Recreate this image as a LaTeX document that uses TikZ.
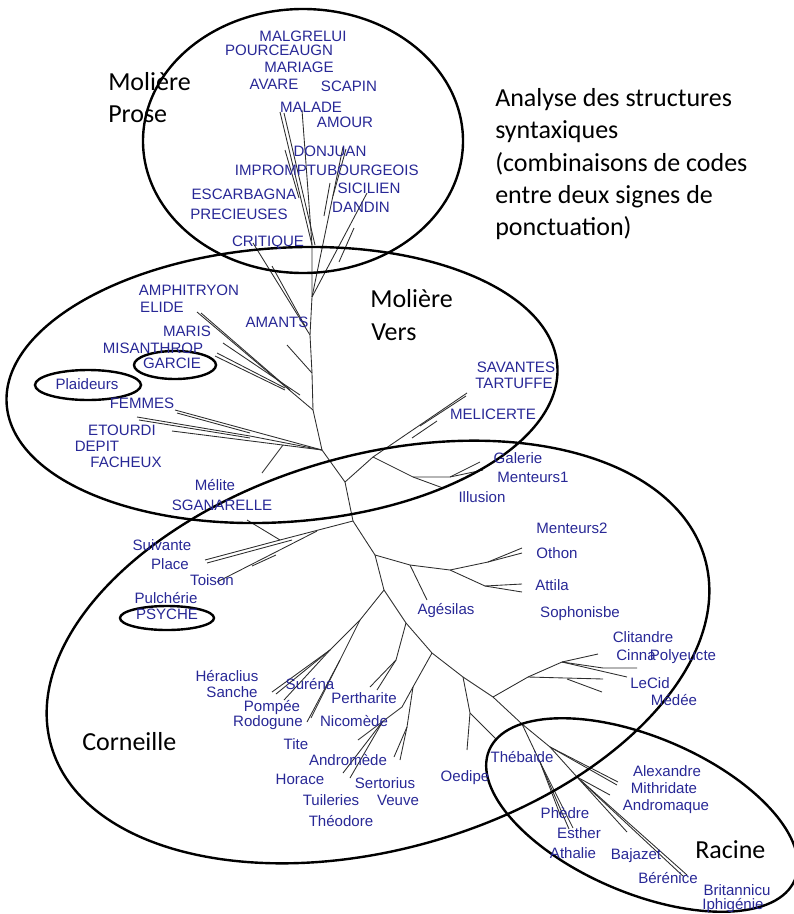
\documentclass[tikz,border=0pt]{standalone}
\usepackage{fontspec}
\newfontfamily\lab{Liberation Sans}
\newfontfamily\calib{Carlito}
\definecolor{lblue}{RGB}{40,40,150}
\definecolor{treec}{RGB}{45,45,45}
\begin{document}
\begin{tikzpicture}[x=0.75pt,y=-0.75pt,
  lbl/.style={font=\lab\fontsize{11.3}{13}\selectfont, text=lblue, inner sep=0pt, anchor=base},
  big/.style={font=\calib\fontsize{19.5}{24}\selectfont, text=black, inner sep=0pt, anchor=base west},
  br/.style={draw=treec, line width=0.65pt},
  ell/.style={draw=black, line width=1.8pt},
  oval/.style={draw=black, line width=1.8pt}]
\useasboundingbox (0,0) rectangle (793,914);

% ---------- tree junctions ----------
\coordinate (pA) at (312,245);
\coordinate (T1) at (312,297);
\coordinate (T2) at (310,335);
\coordinate (T3) at (312,373);
\coordinate (T4) at (313,410);
\coordinate (T5) at (322,450);
\coordinate (T6) at (345,482);
\coordinate (T7) at (353,521);
\coordinate (T8) at (375,555);
\coordinate (T9) at (384,590);
\coordinate (T10) at (406,623);
\coordinate (T11) at (432,653);
\coordinate (T12) at (463,677);
\coordinate (T13) at (493,697);
\coordinate (T14) at (522,724);

\draw[br] (pA) -- (T1) -- (T2) -- (T3) -- (T4) -- (T5) -- (T6) -- (T7) -- (T8) -- (T9) -- (T10) -- (T11) -- (T12) -- (T13) -- (T14);

% Moliere prose
\draw[br] (302,110) -- (pA);
\draw[br] (280,112) -- (pA);
\draw[br] (284,113) -- (315,245);
\draw[br] (285,150) -- (299,198);
\draw[br] (343,147) -- (T1);
\draw[br] (346,149) -- (333,196);
\draw[br] (330,183) -- (324,216);
\draw[br] (367,193) -- (T1);
\draw[br] (354,228) -- (339,262);
\draw[br] (253,243) -- (T2);
\draw[br] (272,266) -- (305,326);

% Moliere vers
\draw[br] (287,345) -- (T3);
\draw[br] (197,312) -- (T4);
\draw[br] (201,313) -- (290,390);
\draw[br] (223,343) -- (300,395);
\draw[br] (217,353) -- (285,388);
\draw[br] (215,356) -- (285,390);
\draw[br] (175,410) -- (T5);
\draw[br] (177,413) -- (250,433);
\draw[br] (137,417) -- (250,436) -- (T5);
\draw[br] (139,420) -- (250,438);
\draw[br] (172,431) -- (T5);
\draw[br] (283,445) -- (262,473);

\coordinate (G0) at (373,457);
\coordinate (G1) at (413,477);
\coordinate (G2) at (450,477);
\draw[br] (T6) -- (G0) -- (467,393);
\draw[br] (420,426) -- (466,396);
\draw[br] (437,421) -- (412,438);
\draw[br] (G0) -- (G1) -- (443,488);
\draw[br] (G1) -- (G2) -- (480,462);
\draw[br] (G2) -- (483,470);

% Corneille
\coordinate (S1) at (280,540);
\draw[br] (T7) -- (S1) -- (205,560);
\draw[br] (292,540) -- (207,563);
\draw[br] (S1) -- (247,520);
\draw[br] (317,531) -- (217,582);
\draw[br] (252,566) -- (276,555);

\coordinate (O1) at (410,565);
\coordinate (O2) at (450,570);
\coordinate (O3) at (488,562);
\coordinate (O4) at (485,586);
\draw[br] (T8) -- (O1) -- (O2) -- (O3) -- (522,548);
\draw[br] (O3) -- (522,553);
\draw[br] (O2) -- (O4) -- (522,584);
\draw[br] (O4) -- (522,592);
\draw[br] (O1) -- (427,600);

\coordinate (K1) at (360,620);
\coordinate (K2) at (330,650);
\coordinate (K4) at (340,660);
\draw[br] (T9) -- (K1) -- (K2) -- (272,692);
\draw[br] (K2) -- (276,694);
\draw[br] (K2) -- (284,700);
\draw[br] (K1) -- (K4) -- (307,722);
\draw[br] (K4) -- (311,718);

\coordinate (P1) at (396,660);
\draw[br] (T10) -- (P1) -- (370,687);
\draw[br] (P1) -- (377,690);

\coordinate (N1) at (413,687);
\coordinate (N2) at (407,727);
\coordinate (N4) at (402,707);
\coordinate (N3) at (383,721);
\draw[br] (T11) -- (N1) -- (N2) -- (400,760);
\draw[br] (N2) -- (394,757);
\draw[br] (N1) -- (N4) -- (358,740);
\draw[br] (N3) -- (343,773);
\draw[br] (N3) -- (350,778);

\coordinate (E1) at (470,713);
\draw[br] (T12) -- (E1) -- (467,750);
\draw[br] (E1) -- (497,740);

\coordinate (C1) at (528,677);
\coordinate (C2) at (562,662);
\draw[br] (T13) -- (C1) -- (C2) -- (598,654);
\draw[br] (C2) -- (603,668) -- (637,668);
\draw[br] (C2) -- (627,677);
\draw[br] (C1) -- (603,679);
\draw[br] (567,679) -- (602,692);

% Racine
\coordinate (R1) at (540,762);
\coordinate (R2) at (550,747);
\coordinate (R3) at (577,777);
\draw[br] (T14) -- (R1) -- (573,828);
\draw[br] (R1) -- (569,829);
\draw[br] (R1) -- (561,817);
\draw[br] (T14) -- (R2) -- (618,782);
\draw[br] (R2) -- (617,785);
\draw[br] (R2) -- (R3) -- (610,795);
\draw[br] (R3) -- (627,832);
\draw[br] (R3) -- (687,875);
\draw[br] (580,780) -- (684,877);

% ---------- group ellipses ----------
\draw[ell] (303,141) ellipse [x radius=160, y radius=132];
\draw[ell, rotate around={4:(282,385)}] (282,385) ellipse [x radius=276, y radius=137];
\draw[ell, rotate around={16:(378,652)}] (378,652) ellipse [x radius=340, y radius=197];
\draw[ell, rotate around={-23:(642,815)}] (642,815) ellipse [x radius=166, y radius=78];

\draw[oval] (175,365) ellipse [x radius=41, y radius=14];
\draw[oval] (88,385) ellipse [x radius=53, y radius=15];
\draw[oval] (167,618) ellipse [x radius=47, y radius=12];

% ---------- black titles ----------
\node[big] (tmp) at (108,90) {Molière};
\node[big] (tpr) at (108,122) {Prose};
\node[big] (tmv) at (370,307) {Molière};
\node[big] (tvr) at (371,340) {Vers};
\node[big] (an1) at (495,106) {Analyse des structures};
\node[big] (an2) at (495,138) {syntaxiques};
\node[big] (an3) at (495,171) {(combinaisons de codes};
\node[big] (an4) at (495,203) {entre deux signes de};
\node[big] (an5) at (495,235) {ponctuation)};
\node[big] (tco) at (82,750) {Corneille};
\node[big] (tra) at (695,858) {Racine};

% ---------- blue labels ----------
\node[lbl] (malgrelui) at (303,41) {MALGRELUI};
\node[lbl] (pourceaugn) at (279,55) {POURCEAUGN};
\node[lbl] (mariage) at (299,72) {MARIAGE};
\node[lbl] (avare) at (274,89) {AVARE};
\node[lbl] (scapin) at (349,91) {SCAPIN};
\node[lbl] (malade) at (311,112) {MALADE};
\node[lbl] (amour) at (345,127) {AMOUR};
\node[lbl] (donjuan) at (330,156) {DONJUAN};
\node[lbl] (impromptu) at (281,175) {IMPROMPTU};
\node[lbl] (bourgeois) at (373,175) {BOURGEOIS};
\node[lbl] (sicilien) at (369,193) {SICILIEN};
\node[lbl] (dandin) at (361,212) {DANDIN};
\node[lbl] (escarbagna) at (244,199) {ESCARBAGNA};
\node[lbl] (precieuses) at (239,219) {PRECIEUSES};
\node[lbl] (critique) at (268,246) {CRITIQUE};

\node[lbl] (amphitryon) at (189,295) {AMPHITRYON};
\node[lbl] (elide) at (162,312) {ELIDE};
\node[lbl] (maris) at (187,336) {MARIS};
\node[lbl] (misanthrop) at (153,353) {MISANTHROP};
\node[lbl] (garcie) at (172,368) {GARCIE};
\node[lbl] (plaideurs) at (87,389) {Plaideurs};
\node[lbl] (femmes) at (142,408) {FEMMES};
\node[lbl] (etourdi) at (122,435) {ETOURDI};
\node[lbl] (depit) at (97,451) {DEPIT};
\node[lbl] (facheux) at (126,467) {FACHEUX};
\node[lbl] (melite) at (215,490) {Mélite};
\node[lbl] (sganarelle) at (222,510) {SGANARELLE};
\node[lbl] (amants) at (277,327) {AMANTS};
\node[lbl] (savantes) at (516,372) {SAVANTES};
\node[lbl] (tartuffe) at (514,388) {TARTUFFE};
\node[lbl] (melicerte) at (493,419) {MELICERTE};

\node[lbl] (galerie) at (518,463) {Galerie};
\node[lbl] (menteursA) at (533,482) {Menteurs1};
\node[lbl] (illusion) at (482,502) {Illusion};
\node[lbl] (menteursB) at (572,533) {Menteurs2};
\node[lbl] (othon) at (557,558) {Othon};
\node[lbl] (attila) at (552,590) {Attila};
\node[lbl] (sophonisbe) at (580,617) {Sophonisbe};
\node[lbl] (clitandre) at (643,642) {Clitandre};
\node[lbl] (cinna) at (636,660) {Cinna};
\node[lbl] (polyeucte) at (683,660) {Polyeucte};
\node[lbl] (lecid) at (650,688) {LeCid};
\node[lbl] (medee) at (674,705) {Médée};
\node[lbl] (agesilas) at (446,614) {Agésilas};
\node[lbl] (suivante) at (162,550) {Suivante};
\node[lbl] (place) at (170,569) {Place};
\node[lbl] (toison) at (212,585) {Toison};
\node[lbl] (pulcherie) at (166,603) {Pulchérie};
\node[lbl] (psyche) at (167,619) {PSYCHE};
\node[lbl] (heraclius) at (227,681) {Héraclius};
\node[lbl] (sanche) at (232,697) {Sanche};
\node[lbl] (surena) at (310,689) {Suréna};
\node[lbl] (pompee) at (272,711) {Pompée};
\node[lbl] (rodogune) at (268,726) {Rodogune};
\node[lbl] (pertharite) at (364,703) {Pertharite};
\node[lbl] (nicomede) at (354,726) {Nicomède};
\node[lbl] (tite) at (296,749) {Tite};
\node[lbl] (andromede) at (348,765) {Andromède};
\node[lbl] (horace) at (300,784) {Horace};
\node[lbl] (sertorius) at (385,788) {Sertorius};
\node[lbl] (tuileries) at (331,805) {Tuileries};
\node[lbl] (veuve) at (398,805) {Veuve};
\node[lbl] (theodore) at (341,826) {Théodore};
\node[lbl] (oedipe) at (465,781) {Oedipe};

\node[lbl] (thebaide) at (522,762) {Thébaide};
\node[lbl] (alexandre) at (667,776) {Alexandre};
\node[lbl] (mithridate) at (664,793) {Mithridate};
\node[lbl] (andromaque) at (666,810) {Andromaque};
\node[lbl] (phedre) at (565,818) {Phèdre};
\node[lbl] (esther) at (579,838) {Esther};
\node[lbl] (athalie) at (573,858) {Athalie};
\node[lbl] (bajazet) at (636,859) {Bajazet};
\node[lbl] (berenice) at (668,883) {Bérénice};
\node[lbl] (britannicu) at (737,895) {Britannicu};
\node[lbl] (iphigenie) at (733,909) {Iphigénie};
\end{tikzpicture}
\end{document}
